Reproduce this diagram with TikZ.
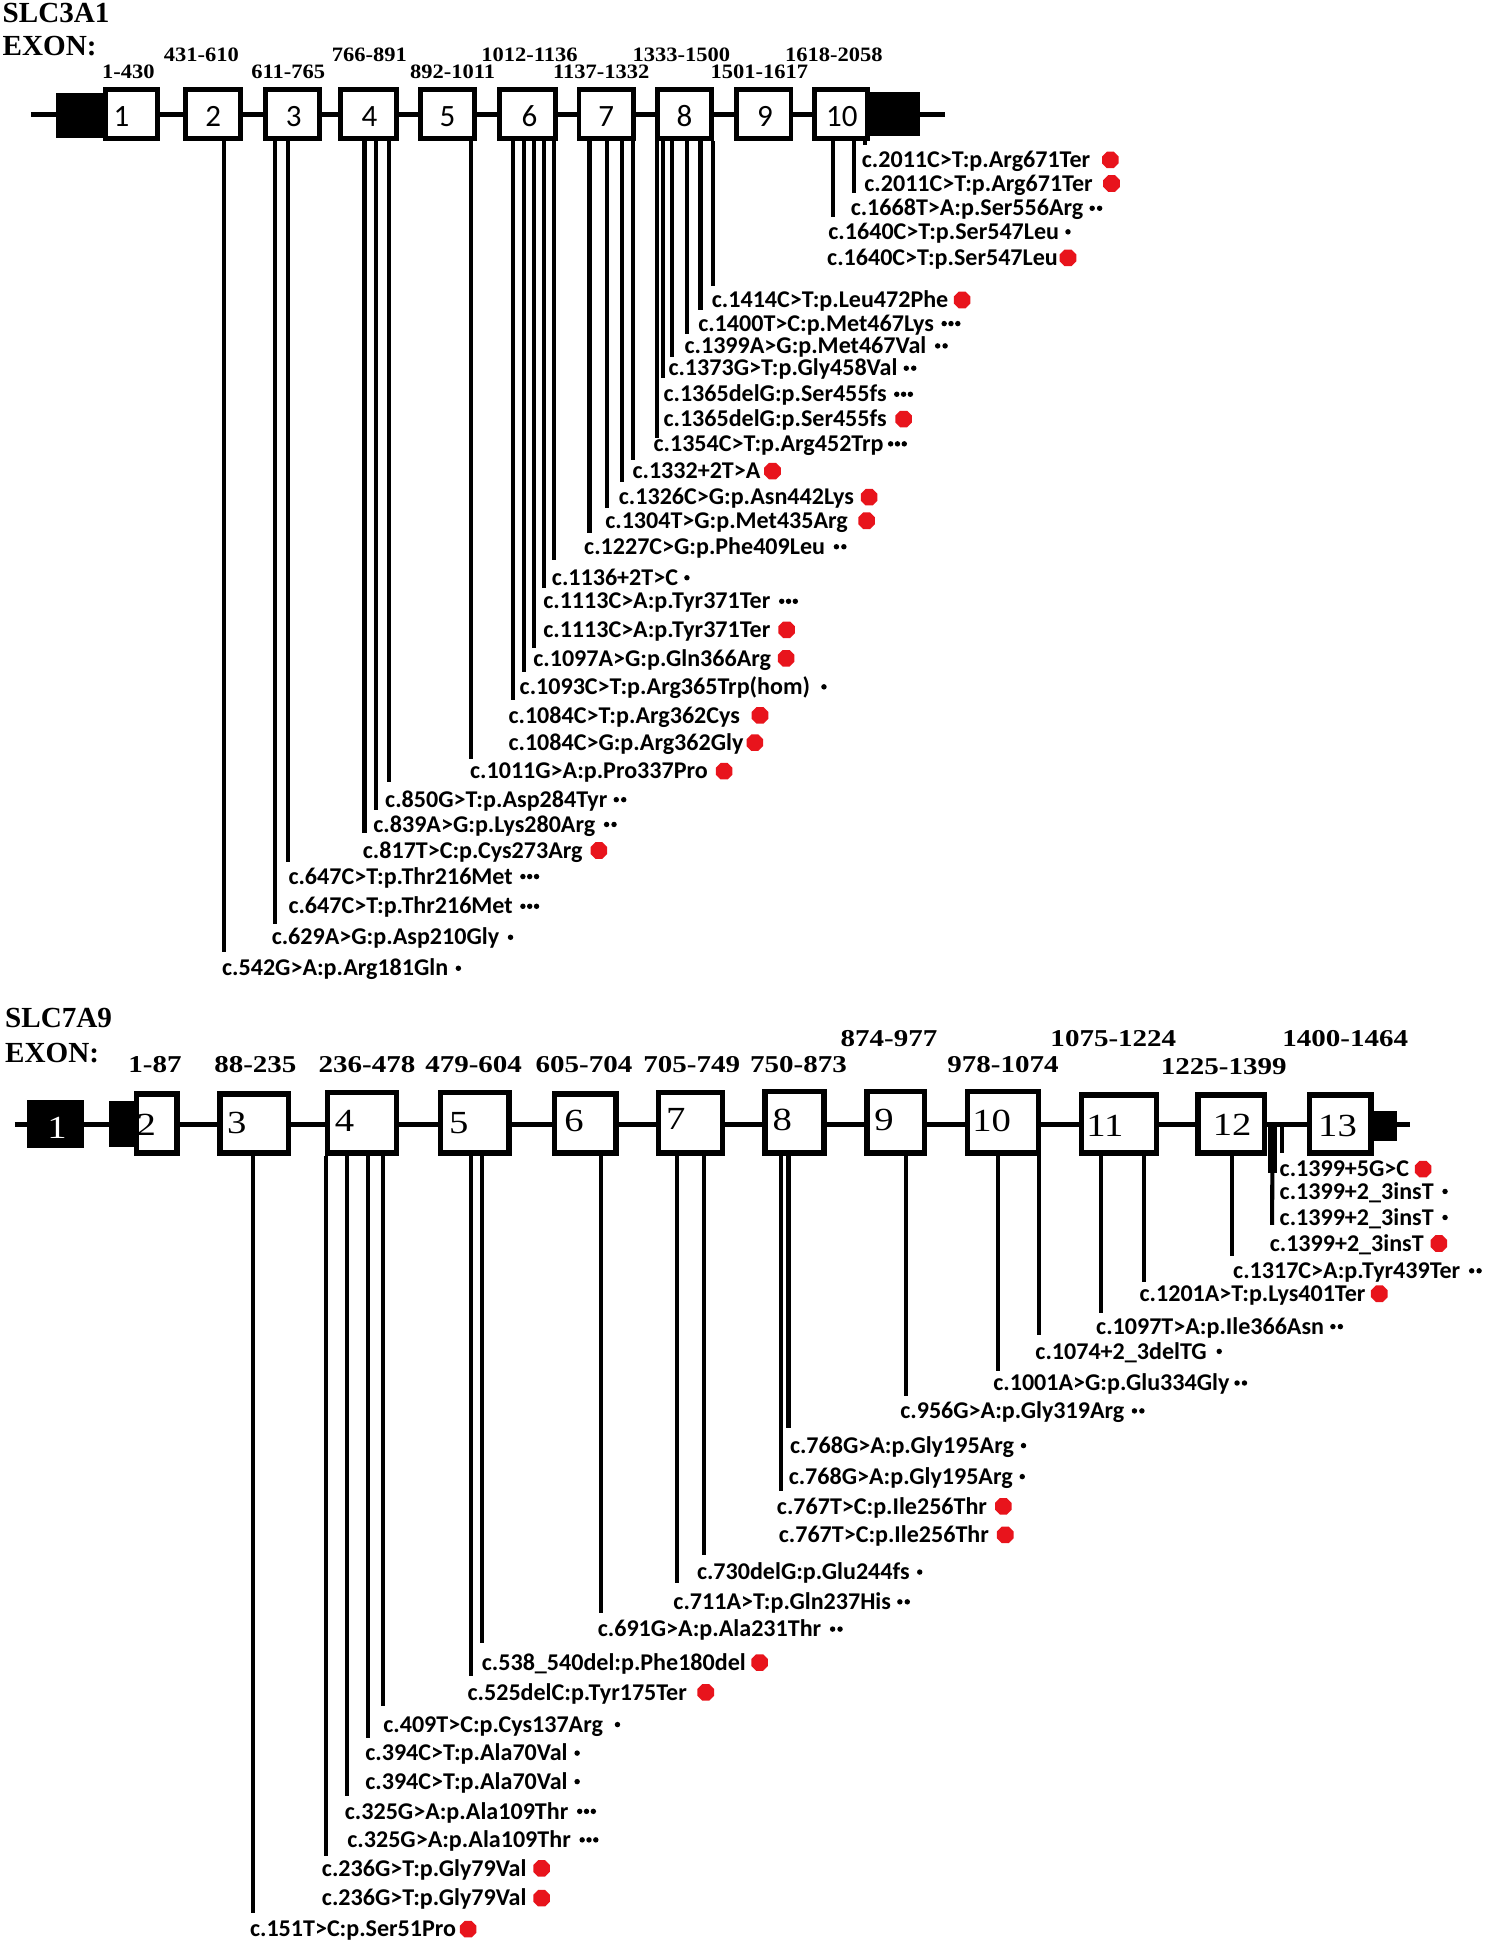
\documentclass[tikz,border=0pt]{standalone}
\usepackage{fontspec}
\usepackage{graphicx}
\setmainfont{Liberation Serif}
\newfontfamily\labfont{Carlito}
\usetikzlibrary{shapes.geometric}
\definecolor{mred}{RGB}{232,20,28}
\tikzset{
  lab/.style={font=\labfont\bfseries\fontsize{19.4}{20}\selectfont, anchor=base west, inner sep=0pt},
  mline/.style={line width=3.3pt},
  reddot/.style={regular polygon, regular polygon sides=8, fill=mred, inner sep=0pt, minimum size=14.5pt},
  hdr/.style={font=\bfseries\fontsize{23.5}{24}\selectfont, anchor=base west, inner sep=0pt},
  rngA/.style={font=\bfseries\fontsize{16.5}{17}\selectfont, anchor=base, inner sep=0pt},
  rngB/.style={font=\bfseries\fontsize{19.5}{20}\selectfont, anchor=base, inner sep=0pt},
  digA/.style={font=\labfont\fontsize{25}{26}\selectfont, anchor=base, inner sep=0pt},
  digB/.style={font=\fontsize{26}{27}\selectfont, anchor=base west, inner sep=0pt},
}
\newcommand\exbox[6]{%
  \pgfmathsetmacro\cx{(#2+#4)/2}%
  \pgfmathsetmacro\cy{(#3+#5)/2}%
  \pgfmathsetmacro\ww{#4-#2-#6}%
  \pgfmathsetmacro\hh{#5-#3-#6}%
  \node[draw, fill=white, line width=#6pt, inner sep=0pt, minimum width=\ww pt, minimum height=\hh pt] (#1) at (\cx,\cy) {};}
\newcommand\vl[4]{\coordinate (#1) at (#2,#3); \draw[mline] (#1 |- #4.south) -- (#1);}
\newcommand\mR[5]{\node[lab] (#1) at (#2,{#3+6.2}) {#4}; \node[reddot] (#1m) at ([xshift=#5pt,yshift=6.2pt]#1.base east) {};}
\newcommand\mA[5]{\node[lab] (#1) at (#2,{#3+6.2}) {#4}; \fill ([xshift=#5pt,yshift=6.2pt]#1.base east) circle (2.2pt);}
\newcommand\mB[5]{\node[lab] (#1) at (#2,{#3+6.2}) {#4}; \fill ([xshift=#5pt,yshift=6.2pt]#1.base east) circle (2.2pt) ([xshift=#5pt+6pt,yshift=6.2pt]#1.base east) circle (2.2pt);}
\newcommand\mC[5]{\node[lab] (#1) at (#2,{#3+6.2}) {#4}; \fill ([xshift=#5pt,yshift=6.2pt]#1.base east) circle (2.2pt) ([xshift=#5pt+5.5pt,yshift=6.2pt]#1.base east) circle (2.2pt) ([xshift=#5pt+11pt,yshift=6.2pt]#1.base east) circle (2.2pt);}
\begin{document}
\begin{tikzpicture}[x=1pt,y=-1pt]
\useasboundingbox (0,0) rectangle (1200,1568);
\fill[white] (0,0) rectangle (1200,1568);
% ---------------- SLC3A1 ----------------
\node[hdr] (h1) at (2,18.5) {SLC3A1};
\node[hdr] (h2) at (2,44.5) {EXON:};
\draw[line width=4pt] (25,92) -- (762,92);
\fill (45,75) rectangle (85,111);
\fill (700,74) rectangle (742,110);
\exbox{a1}{83}{70}{129}{114}{4}
\exbox{a2}{148}{70}{196}{114}{4}
\exbox{a3}{212}{70}{260}{114}{4}
\exbox{a4}{273}{70}{322}{114}{4}
\exbox{a5}{337}{70}{385}{114}{4}
\exbox{a6}{401}{70}{450}{114}{4}
\exbox{a7}{465}{70}{513}{114}{4}
\exbox{a8}{528}{70}{576}{114}{4}
\exbox{a9}{592}{70}{640}{114}{4}
\exbox{a10}{655}{70}{702}{114}{4}
\node[digA] (d1) at (98,102) {1};
\node[digA] (d2) at (172,102) {2};
\node[digA] (d3) at (237,102) {3};
\node[digA] (d4) at (298,102) {4};
\node[digA] (d5) at (361,102) {5};
\node[digA] (d6) at (427,102) {6};
\node[digA] (d7) at (489,102) {7};
\node[digA] (d8) at (552,102) {8};
\node[digA] (d9) at (617,102) {9};
\node[digA] (d10) at (679,102) {10};
\node[rngA] (r1) at (103.5,63) {\scalebox{1.1}[1]{1-430}};
\node[rngA] (r2) at (162.5,49.5) {\scalebox{1.1}[1]{431-610}};
\node[rngA] (r3) at (232.5,63) {\scalebox{1.1}[1]{611-765}};
\node[rngA] (r4) at (298,49.5) {\scalebox{1.1}[1]{766-891}};
\node[rngA] (r5) at (365,63) {\scalebox{1.1}[1]{892-1011}};
\node[rngA] (r6) at (427,49.5) {\scalebox{1.1}[1]{1012-1136}};
\node[rngA] (r7) at (485,63) {\scalebox{1.1}[1]{1137-1332}};
\node[rngA] (r8) at (549.5,49.5) {\scalebox{1.1}[1]{1333-1500}};
\node[rngA] (r9) at (612.5,63) {\scalebox{1.1}[1]{1501-1617}};
\node[rngA] (r10) at (672.5,49.5) {\scalebox{1.1}[1]{1618-2058}};
\vl{v1}{181}{768}{a2}
\vl{v2}{222}{745}{a3}
\vl{v3}{232}{695}{a3}
\vl{v4}{294}{672}{a4}
\vl{v5}{303}{653}{a4}
\vl{v6}{314}{631}{a4}
\vl{v7}{380}{612}{a5}
\vl{v8}{414}{565}{a6}
\vl{v9}{422.5}{542}{a6}
\vl{v10}{431}{523}{a6}
\vl{v11}{439}{474}{a6}
\vl{v12}{447}{452}{a6}
\vl{v13}{475.5}{430}{a7}
\vl{v14}{489.5}{410}{a7}
\vl{v15}{502}{389}{a7}
\vl{v16}{510.5}{371}{a7}
\vl{v17}{530}{353}{a8}
\vl{v18}{535}{305}{a8}
\vl{v19}{542}{288}{a8}
\vl{v20}{554}{269}{a8}
\vl{v21}{565}{250}{a8}
\vl{v22}{575}{231}{a8}
\vl{v23}{672}{175}{a10}
\vl{v24}{689}{156}{a10}
\vl{v25}{698}{117}{a10}
\mR{t1}{695}{129}{c.2011C>T:p.Arg671Ter}{16}
\mR{t2}{697}{148}{c.2011C>T:p.Arg671Ter}{15}
\mB{t3}{686}{168}{c.1668T>A:p.Ser556Arg}{7}
\mA{t4}{668}{187}{c.1640C>T:p.Ser547Leu}{7}
\mR{t5}{667}{208}{c.1640C>T:p.Ser547Leu}{8}
\mR{t6}{574}{242}{c.1414C>T:p.Leu472Phe}{11}
\mC{t7}{563}{261}{c.1400T>C:p.Met467Lys}{8}
\mB{t8}{552}{279}{c.1399A>G:p.Met467Val}{9}
\mB{t9}{539}{297}{c.1373G>T:p.Gly458Val}{7}
\mC{t10}{535}{318}{c.1365delG:p.Ser455fs}{8}
\mR{t11}{535}{338}{c.1365delG:p.Ser455fs}{13.5}
\mC{t12}{527}{358}{c.1354C>T:p.Arg452Trp}{5.5}
\mR{t13}{510}{380}{c.1332+2T>A}{9.5}
\mR{t14}{499}{401}{c.1326C>G:p.Asn442Lys}{12}
\mR{t15}{488}{420}{c.1304T>G:p.Met435Arg}{15}
\mB{t16}{471}{441}{c.1227C>G:p.Phe409Leu}{9}
\mA{t17}{445}{466}{c.1136+2T>C}{7}
\mC{t18}{438}{485}{c.1113C>A:p.Tyr371Ter}{9}
\mR{t19}{438}{508}{c.1113C>A:p.Tyr371Ter}{13}
\mR{t20}{430}{531}{c.1097A>G:p.Gln366Arg}{12}
\mA{t21}{419}{554}{c.1093C>T:p.Arg365Trp(hom)}{11}
\mR{t22}{410}{577}{c.1084C>T:p.Arg362Cys}{16}
\mR{t23}{410}{599}{c.1084C>G:p.Arg362Gly}{9}
\mR{t24}{379}{622}{c.1011G>A:p.Pro337Pro}{13}
\mB{t25}{310.5}{645}{c.850G>T:p.Asp284Tyr}{7}
\mB{t26}{301}{665}{c.839A>G:p.Lys280Arg}{9}
\mR{t27}{292.5}{686}{c.817T>C:p.Cys273Arg}{13}
\mC{t28}{232.5}{707}{c.647C>T:p.Thr216Met}{8}
\mC{t29}{232.5}{731}{c.647C>T:p.Thr216Met}{8}
\mA{t30}{219}{756}{c.629A>G:p.Asp210Gly}{9}
\mA{t31}{179}{781}{c.542G>A:p.Arg181Gln}{8}
% ---------------- SLC7A9 ----------------
\node[hdr] (h3) at (4,829) {SLC7A9};
\node[hdr] (h4) at (4,857) {EXON:};
\draw[line width=4pt] (12,907) -- (1137,907);
\fill (22,887) rectangle (68,926);
\node[digB, text=white] (e1) at (38,918) {\scalebox{1.2}[1]{1}};
\exbox{b2}{108}{880}{145}{932}{4.5}
\fill (88,888) rectangle (112,925);
\exbox{b3}{175}{880}{235}{932}{4.5}
\exbox{b4}{262}{879}{322}{932}{4.5}
\exbox{b5}{353}{879}{413}{932}{4.5}
\exbox{b6}{445}{880}{499}{932}{4.5}
\exbox{b7}{529}{879}{585}{932}{4.5}
\exbox{b8}{615}{878}{667}{932}{4.5}
\exbox{b9}{697}{878}{748}{932}{4.5}
\exbox{b10}{778}{878}{840}{932}{4.5}
\exbox{b11}{870}{881}{935}{932}{4.5}
\exbox{b12}{964}{881}{1022}{932}{4.5}
\exbox{b13}{1054}{881}{1108}{932}{4.5}
\fill (1107,896) rectangle (1127,920);
\node[digB] (e2) at (110,916) {\scalebox{1.2}[1]{2}};
\node[digB] (e3) at (183,914) {\scalebox{1.2}[1]{3}};
\node[digB] (e4) at (270,913) {\scalebox{1.2}[1]{4}};
\node[digB] (e5) at (362,914) {\scalebox{1.2}[1]{5}};
\node[digB] (e6) at (455,913) {\scalebox{1.2}[1]{6}};
\node[digB] (e7) at (537,911) {\scalebox{1.2}[1]{7}};
\node[digB] (e8) at (623,912) {\scalebox{1.2}[1]{8}};
\node[digB] (e9) at (705,912) {\scalebox{1.2}[1]{9}};
\node[digB] (e10) at (784,913) {\scalebox{1.2}[1]{10}};
\node[digB] (e11) at (876,917) {\scalebox{1.2}[1]{11}};
\node[digB] (e12) at (978,916) {\scalebox{1.2}[1]{12}};
\node[digB] (e13) at (1063,917) {\scalebox{1.2}[1]{13}};
\node[rngB] (s1) at (125,865) {\scalebox{1.2}[1]{1-87}};
\node[rngB] (s2) at (206,865) {\scalebox{1.2}[1]{88-235}};
\node[rngB] (s3) at (296,865) {\scalebox{1.2}[1]{236-478}};
\node[rngB] (s4) at (382,865) {\scalebox{1.2}[1]{479-604}};
\node[rngB] (s5) at (471,865) {\scalebox{1.2}[1]{605-704}};
\node[rngB] (s6) at (558,865) {\scalebox{1.2}[1]{705-749}};
\node[rngB] (s7) at (644,865) {\scalebox{1.2}[1]{750-873}};
\node[rngB] (s8) at (717,844) {\scalebox{1.2}[1]{874-977}};
\node[rngB] (s9) at (809,865) {\scalebox{1.2}[1]{978-1074}};
\node[rngB] (s10) at (898,844) {\scalebox{1.2}[1]{1075-1224}};
\node[rngB] (s11) at (987,867) {\scalebox{1.2}[1]{1225-1399}};
\node[rngB] (s12) at (1085,844) {\scalebox{1.2}[1]{1400-1464}};
\vl{w1}{204}{1543}{b3}
\vl{w2}{263}{1497}{b4}
\vl{w3}{280}{1449}{b4}
\vl{w4}{297}{1402}{b4}
\vl{w5}{309}{1376}{b4}
\vl{w6}{380}{1352}{b5}
\vl{w7}{389}{1325}{b5}
\vl{w8}{485}{1301}{b6}
\vl{w9}{546}{1277}{b7}
\vl{w10}{568}{1254}{b7}
\vl{w11}{630}{1203}{b8}
\vl{w12}{636}{1152}{b8}
\vl{w13}{731}{1126}{b9}
\vl{w14}{805}{1106}{b10}
\vl{w15}{838}{1077}{b10}
\vl{w16}{888}{1059}{b11}
\vl{w17}{923}{1034}{b11}
\vl{w18}{994}{1013}{b12}
\coordinate (j1) at (1026.5,907);
\coordinate (w19) at (1026.5,946);
\coordinate (w20) at (1026,988);
\draw[line width=7pt] (j1) -- (w19);
\draw[mline] (j1) -- (w20);
\coordinate (j2) at (1034,907);
\coordinate (w21) at (1034,930);
\draw[line width=3pt] (j2) -- (w21);
\mR{u1}{1032}{943}{c.1399+5G>C}{11}
\mA{u2}{1032}{961}{c.1399+2\_3insT}{9}
\mA{u3}{1032}{982}{c.1399+2\_3insT}{9}
\mR{u4}{1024}{1003}{c.1399+2\_3insT}{12}
\mB{u5}{994.5}{1025}{c.1317C>A:p.Tyr439Ter}{9}
\mR{u6}{919}{1043.5}{c.1201A>T:p.Lys401Ter}{11}
\mB{u7}{884}{1070}{c.1097T>A:p.Ile366Asn}{7}
\mA{u8}{835}{1090}{c.1074+2\_3delTG}{10}
\mB{u9}{801}{1115.5}{c.1001A>G:p.Glu334Gly}{6}
\mB{u10}{726}{1138}{c.956G>A:p.Gly319Arg}{8}
\mA{u11}{637}{1166}{c.768G>A:p.Gly195Arg}{7.5}
\mA{u12}{636}{1191}{c.768G>A:p.Gly195Arg}{7.5}
\mR{u13}{626.5}{1215}{c.767T>C:p.Ile256Thr}{13}
\mR{u14}{628}{1238}{c.767T>C:p.Ile256Thr}{13}
\mA{u15}{562}{1268}{c.730delG:p.Glu244fs}{8}
\mB{u16}{543}{1292}{c.711A>T:p.Gln237His}{7}
\mB{u17}{482}{1314}{c.691G>A:p.Ala231Thr}{9}
\mR{u18}{388.5}{1341}{c.538\_540del:p.Phe180del}{11}
\mR{u19}{377}{1365}{c.525delC:p.Tyr175Ter}{15}
\mA{u20}{309}{1391}{c.409T>C:p.Cys137Arg}{11.5}
\mA{u21}{294.5}{1414}{c.394C>T:p.Ala70Val}{7.5}
\mA{u22}{294.5}{1437}{c.394C>T:p.Ala70Val}{7.5}
\mC{u23}{278}{1461}{c.325G>A:p.Ala109Thr}{9}
\mC{u24}{280}{1484}{c.325G>A:p.Ala109Thr}{9}
\mR{u25}{259.5}{1507}{c.236G>T:p.Gly79Val}{12}
\mR{u26}{259.5}{1531}{c.236G>T:p.Gly79Val}{12}
\mR{u27}{201.5}{1556}{c.151T>C:p.Ser51Pro}{9.5}
\end{tikzpicture}
\end{document}
